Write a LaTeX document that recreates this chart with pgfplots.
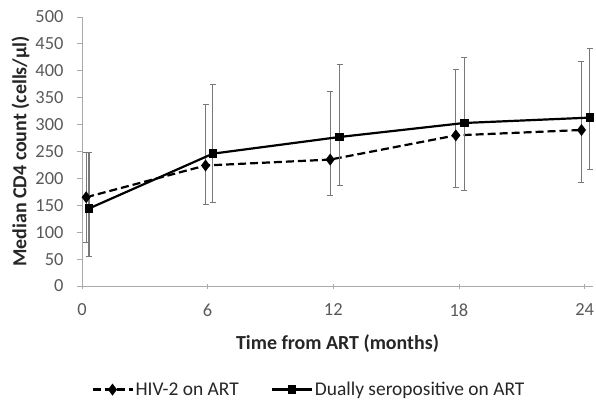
\documentclass[border=0pt]{standalone}
\usepackage{fontspec}
\setmainfont{Carlito}
\usepackage{pgfplots}
\pgfplotsset{compat=1.18}
\definecolor{axisgray}{RGB}{170,170,170}
\definecolor{ticktext}{RGB}{89,89,89}
\definecolor{errgray}{RGB}{120,120,120}
\begin{document}
\begin{tikzpicture}[x=1bp,y=1bp]
\path[use as bounding box] (-82,-114) rectangle (514,286);
\begin{axis}[
    at={(0,0)}, anchor=south west,
    scale only axis, width=511bp, height=269bp,
    xmin=0, xmax=24.4, ymin=0, ymax=500,
    clip=false,
    axis lines=left,
    axis line style={draw=axisgray, line width=0.9bp, -},
    xtick={0,6,12,18,24}, ytick={0,50,...,500},
    tick style={axisgray, line width=0.9bp},
    major tick length=5bp,
    xtick align=center, ytick align=outside,
    /pgf/number format/assume math mode=true,
    ticklabel style={font=\fontsize{18.5}{21}\selectfont, text=ticktext},
    xticklabel style={yshift=-12bp},
    yticklabel style={xshift=-10bp},
    xlabel={\textbf{Time from ART (months)}},
    ylabel={\textbf{Median CD4 count (cells/µl)}},
    label style={font=\fontsize{20}{23}\selectfont, text=black!85},
    xlabel style={yshift=-11bp},
    ylabel style={yshift=-1bp},
    legend style={at={(0.444,-0.385)}, anchor=center, draw=none,
        font=\fontsize{19.5}{22}\selectfont, text=black!85,
        legend columns=2,
        /tikz/every even column/.append style={column sep=30bp}},
    legend cell align=left,
    legend image code/.code={\draw[mark repeat=2,mark phase=2,#1]
        plot coordinates {(0bp,0bp) (20bp,0bp) (40bp,0bp)};},
]
\addplot[black, line width=2.2bp, dash pattern=on 8bp off 4bp,
    mark=diamond*, mark size=4.2bp, mark options={solid},
    error bars/.cd, y dir=both, y explicit,
    error bar style={errgray, line width=1.2bp, solid},
    error mark options={rotate=90, errgray, mark size=3bp, line width=1bp, solid}]
coordinates {
    (0.20,165)  += (0,83)  -= (0,84)
    (5.90,224)  += (0,114) -= (0,73)
    (11.85,235) += (0,127) -= (0,67)
    (17.85,280) += (0,123) -= (0,97)
    (23.85,290) += (0,128) -= (0,97)
};
\addplot[black, line width=2.2bp,
    mark=square*, mark size=3.2bp,
    error bars/.cd, y dir=both, y explicit,
    error bar style={errgray, line width=1.2bp},
    error mark options={rotate=90, errgray, mark size=3bp, line width=1bp}]
coordinates {
    (0.33,144)  += (0,104) -= (0,90)
    (6.25,246)  += (0,129) -= (0,90)
    (12.30,277) += (0,135) -= (0,91)
    (18.25,303) += (0,121) -= (0,125)
    (24.25,313) += (0,129) -= (0,96)
};
\legend{HIV-2 on ART, Dually seropositive on ART}
\end{axis}
\end{tikzpicture}
\end{document}
